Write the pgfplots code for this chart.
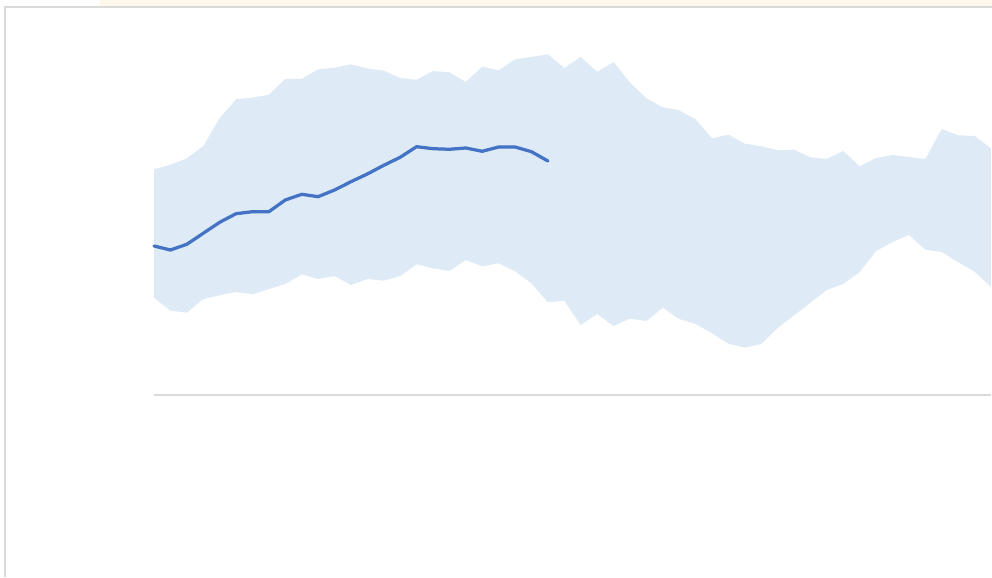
\documentclass[border=0pt]{standalone}
\usepackage{pgfplots}
\pgfplotsset{compat=1.18}
\definecolor{band}{RGB}{222,234,246}
\definecolor{lineblue}{RGB}{68,114,196}
\definecolor{framegray}{RGB}{218,218,218}
\definecolor{cream}{RGB}{255,247,234}
\begin{document}
\begin{tikzpicture}
\path[use as bounding box] (0pt,0pt) rectangle (396.8pt,230.8pt);
\fill[cream] (40pt,228.4pt) rectangle (396.8pt,230.8pt);
\draw[framegray, line width=0.8pt] (2pt,0pt) -- (2pt,228pt) -- (396.8pt,228pt);
\begin{axis}[
  at={(61.6pt,72.8pt)}, anchor=south west,
  scale only axis, width=334.8pt, height=142pt,
  xmin=0, xmax=51, ymin=0, ymax=355,
  axis x line=bottom, axis y line=none,
  x axis line style={draw=framegray, line width=0.7pt, -},
  xtick=\empty, ytick=\empty,
  clip=false,
]
\addplot[fill=band, draw=none] coordinates {
(0,225.7)(1,230.3)(2,236.7)(3,249)(4,276.7)(5,295.7)(6,297.3)(7,300.3)(8,316)(9,316)
(10,325.7)(11,327.3)(12,330.7)(13,326.5)(14,324.3)(15,317)(16,315.3)(17,324)(18,322.7)(19,313)
(20,328.3)(21,324.7)(22,335.7)(23,338)(24,340.7)(25,327)(26,338)(27,323.2)(28,333)(29,312.3)
(30,296.7)(31,287.7)(32,284.7)(33,275.7)(34,256.7)(35,260.3)(36,251.3)(37,248.7)(38,244.7)(39,245.3)
(40,237.7)(41,236)(42,244)(43,228.7)(44,237)(45,240)(46,238)(47,236)(48,266)(49,259.7)
(50,259)(51,246.7)
(51,108.3)(50,123.3)(49,132.7)(48,143)(47,145.3)(46,160)(45,153)(44,144)(43,123)(42,111)
(41,105)(40,92.3)(39,79.7)(38,67)(37,51)(36,47.3)(35,51.3)(34,61.7)(33,71)(32,76)
(31,87.3)(30,74)(29,76.3)(28,69)(27,81)(26,70)(25,94.3)(24,92.7)(23,111.7)(22,123.7)
(21,131.7)(20,128.7)(19,135)(18,124)(17,126.7)(16,130.7)(15,119)(14,114.3)(13,116)(12,110)
(11,119)(10,116)(9,120.7)(8,111)(7,106)(6,100.7)(5,103)(4,99.7)(3,96)(2,82.3)
(1,84.3)(0,97.3)};
\addplot[lineblue, line width=1.3pt, line join=round, line cap=round] coordinates {
(0,149)(1,145)(2,150.7)(3,161.7)(4,172.7)(5,181.3)(6,183.3)(7,183.3)(8,195)(9,200.7)
(10,198.3)(11,205)(12,213.3)(13,221)(14,229.7)(15,237.7)(16,248.3)(17,246.3)(18,245.7)(19,247)
(20,243.7)(21,248)(22,248)(23,243.3)(24,234)};
\end{axis}
\end{tikzpicture}
\end{document}
